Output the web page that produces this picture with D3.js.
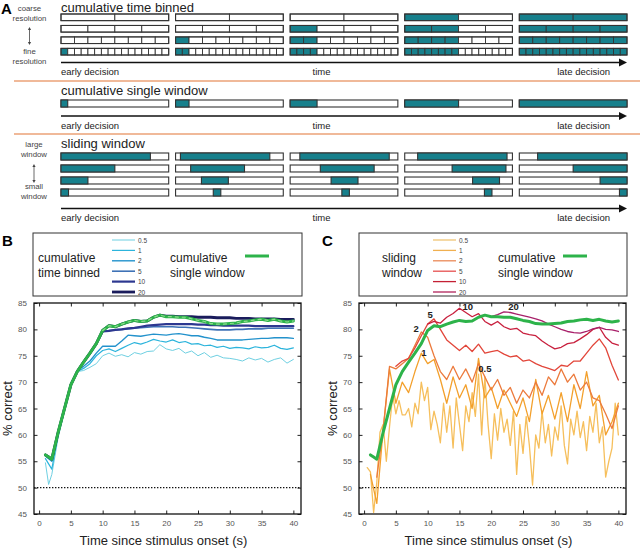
<!DOCTYPE html>
<html><head><meta charset="utf-8">
<script src="https://cdn.jsdelivr.net/npm/d3@7"></script>
<style>
html,body{margin:0;padding:0;background:#fff;}
svg{display:block;font-family:"Liberation Sans",Arial,sans-serif;}
</style></head><body>
<svg id="fig" width="640" height="548"></svg>
<script>
// ================= DATA =================
// Panel A schematic
const groups = [0, 1, 2, 3, 4];
const decisionFrac = [1/16, 2/16, 4/16, 8/16, 1];
const binCounts = [2, 4, 8, 16];
const slideWidth = [0.83, 0.5, 0.25, 0.07];
const slideStart = [
  [0, 0.045, 0.09, 0.12, 0.17],
  [0, 0.14, 0.28, 0.44, 0.5],
  [0, 0.24, 0.38, 0.63, 0.75],
  [0, 0.35, 0.48, 0.74, 0.93]
];
const axisWords = ["early decision", "time", "late decision"];

// Axis ticks
const xTicks = [0, 5, 10, 15, 20, 25, 30, 35, 40];
const yTicks = [45, 50, 55, 60, 65, 70, 75, 80, 85];

// Panel B: cumulative time binned
const timesB = [1, 1.5, 2, 3, 4, 5, 6, 7, 8, 9, 10, 11, 12, 13, 14, 15, 16, 17, 18, 19, 20,
  21, 22, 23, 24, 25, 26, 27, 28, 29, 30, 31, 32, 33, 34, 35, 36, 37, 38, 39, 40];
const singleWindow = [56.2, 55.8, 55.4, 60.5, 65.0, 69.5, 72.0, 73.8, 75.5, 77.3, 79.8,
  80.7, 80.5, 81.0, 81.4, 81.7, 81.5, 81.6, 82.3, 82.7, 82.4,
  82.4, 82.3, 82.3, 82.0, 81.7, 81.5, 81.1, 81.0, 81.0, 81.1,
  81.2, 81.5, 81.6, 81.8, 81.9, 81.7, 81.9, 81.6, 81.4, 81.6];
const bin05 = [54.7, 50.6, 52.5, 59.5, 64.5, 69.5, 72.0, 72.2, 72.8, 73.5, 75.0,
  75.5, 74.9, 75.2, 74.8, 75.6, 75.3, 75.8, 75.9, 77.1, 76.3,
  76.0, 76.4, 75.5, 75.9, 75.0, 75.6, 74.7, 75.1, 74.6, 74.5,
  74.3, 74.0, 74.6, 74.2, 74.5, 73.8, 74.3, 74.6, 73.6, 74.3];
const bin1 = [55.5, 54.5, 53.5, 60.0, 65.0, 69.5, 72.0, 72.6, 73.5, 75.0, 76.0,
  76.3, 75.8, 76.4, 77.0, 77.5, 77.2, 77.6, 78.1, 77.8, 77.6,
  78.0, 77.5, 77.7, 77.2, 77.3, 76.9, 77.0, 76.6, 76.8, 76.4,
  76.6, 76.5, 76.3, 76.7, 76.5, 76.6, 77.0, 76.4, 76.2, 76.5];
const bin2 = [56.0, 55.5, 55.0, 60.3, 65.0, 69.5, 72.2, 73.0, 74.0, 75.5, 76.8,
  76.8, 76.8, 77.8, 78.9, 78.8, 78.7, 78.9, 79.1, 79.0, 78.9,
  79.1, 79.2, 79.0, 78.8, 78.8, 78.5, 78.3, 78.0, 78.0, 78.0,
  78.0, 78.0, 78.1, 78.2, 78.3, 78.3, 78.4, 78.4, 78.4, 78.3];
const bin5 = [56.2, 55.8, 55.4, 60.5, 65.0, 69.5, 72.0, 73.8, 75.5, 77.3, 79.6,
  79.8, 79.9, 80.0, 80.1, 80.2, 80.3, 80.4, 80.5, 80.5, 80.5,
  80.5, 80.4, 80.4, 80.3, 80.2, 80.1, 80.0, 79.9, 79.9, 79.9,
  80.0, 80.0, 80.1, 80.1, 80.1, 80.2, 80.2, 80.2, 80.2, 80.2];
const bin10 = [56.2, 55.8, 55.4, 60.5, 65.0, 69.5, 72.0, 73.8, 75.5, 77.3, 79.6,
  79.7, 79.9, 80.0, 80.2, 80.3, 80.5, 80.7, 80.8, 80.9, 81.0,
  81.0, 81.0, 81.0, 81.0, 80.9, 80.9, 80.8, 80.8, 80.7, 80.7,
  80.7, 80.7, 80.7, 80.6, 80.6, 80.6, 80.6, 80.6, 80.6, 80.6];
const bin20 = [56.2, 55.8, 55.4, 60.5, 65.0, 69.5, 72.0, 73.8, 75.5, 77.3, 79.8,
  80.7, 80.5, 81.0, 81.4, 81.7, 81.5, 81.6, 82.3, 82.7, 82.5,
  82.5, 82.4, 82.4, 82.4, 82.3, 82.3, 82.3, 82.2, 82.2, 82.2,
  82.1, 82.1, 82.1, 82.0, 82.0, 82.0, 82.0, 81.9, 81.9, 81.9];
const binNames = ["0.5", "1", "2", "5", "10", "20"];
const binColors = ["#6fd0e2", "#2cb4dc", "#2392cc", "#3f72b6", "#2d3890", "#1a1c5c"];
const binWidths = [1, 1.2, 1.4, 1.6, 2.2, 2.8];

// Panel C: sliding window
const times05 = d3.range(0.5, 40.25, 0.5);
const times1 = d3.range(1, 41);
const times2 = d3.range(2, 41);
const times5 = d3.range(5, 41);
const times10 = d3.range(10, 41);
const times20 = d3.range(20, 41);
const sw05 = [53.8, 53.0, 45.3, 51.0, 60.5, 62.0, 55.0, 61.5, 67.5, 64.0,
  66.5, 63.8, 63.8, 65.0, 61.5, 66.0, 64.0, 70.0, 66.5, 69.0,
  61.0, 64.5, 62.0, 58.5, 66.0, 60.5, 65.5, 57.5, 67.0, 62.0,
  57.0, 65.5, 62.5, 68.0, 63.5, 71.5, 60.0, 71.0, 62.0, 55.5,
  64.0, 59.0, 65.0, 60.5, 63.0, 58.0, 64.5, 52.5, 62.0, 56.5,
  63.5, 58.0, 50.5, 60.0, 57.5, 64.5, 58.5, 62.0, 56.0, 61.5,
  59.0, 65.5, 58.0, 54.5, 63.0, 60.0, 64.5, 59.5, 62.5, 57.0,
  63.5, 60.5, 66.0, 58.5, 61.5, 52.0, 55.0, 57.5, 66.0, 60.0];
const sw1 = [52.5, 47.0, 61.0, 72.5, 66, 70, 68, 72, 75.5, 73.5,
  74.3, 70.5, 66, 71, 67, 69.5, 65, 74.5, 67, 69,
  65, 68.5, 66, 63.5, 67, 62.5, 70.5, 64, 67.5, 63,
  68, 62.5, 69.5, 65, 72, 65.5, 67.5, 60, 62.5, 66];
const sw2 = [52, 61, 73, 72.5, 73.5, 74.5, 77.0, 79.5, 78.5,
  75.0, 72.0, 70.5, 73.0, 70.5, 72.5, 70.0, 73.5, 71.0, 68.5,
  70.5, 67.5, 69.0, 66.0, 68.5, 67.0, 70.0, 67.5, 71.0, 69.5,
  72.5, 70.0, 71.5, 68.5, 70.0, 67.0, 66.5, 64.0, 61.2, 65.5];
const sw5 = [73.0, 74.0, 74.5, 76.5, 78.8, 81.0,
  82.0, 80.0, 78.0, 77.0, 76.0, 77.0, 75.8, 77.2, 75.5, 75.8,
  76.0, 75.3, 74.8, 75.0, 74.0, 74.2, 73.5, 73.0, 72.6, 72.2,
  73.2, 73.0, 74.0, 74.0, 75.5, 77.0, 78.2, 76.5, 73.2, 70.4];
const sw10 = [81.0,
  81.5, 81.2, 82.3, 83.0, 84.0, 83.2, 82.4, 83.0, 81.5, 80.8,
  81.5, 80.5, 80.0, 80.2, 79.3, 79.0, 78.8, 77.8, 77.0, 76.3,
  76.6, 77.3, 77.5, 78.2, 79.0, 80.0, 80.4, 78.5, 77.4, 77.0];
const sw20 = [82.4, 82.8, 83.3, 83.2, 82.9, 82.6, 82.3, 82.0, 81.6, 81.0, 80.5,
  80.0, 79.6, 79.4, 79.3, 79.6, 80.1, 80.4, 80.0, 79.9, 79.6];
const swColors = ["#f6bf5c", "#f3a02c", "#ec7a3c", "#e2463a", "#c8203e", "#a8206a"];
const swLegendColors = ["#f0c474", "#f0b050", "#ea8a58", "#e65050", "#c42034", "#b0225a"];
const swLabels = [
  {text: "1", t: 9.4, v: 75.6},
  {text: "2", t: 8.2, v: 80.2},
  {text: "5", t: 10.4, v: 82.8},
  {text: "10", t: 16.3, v: 84.3},
  {text: "20", t: 23.5, v: 84.3},
  {text: "0.5", t: 19.0, v: 72.6}
];

// ================= DRAW =================
const svg = d3.select("#fig");
const TEAL = "#17808c", STROKE = "#333";

// ---- Panel A ----
svg.append("text").attr("x", 1).attr("y", 14).attr("font-size", 15).attr("font-weight", "bold").text("A");

const gx = d3.scaleBand().domain(groups).range([61, 627]).paddingInner(0.06);

function arrowAxis(y, labelY) {
  svg.append("line").attr("x1", 61).attr("x2", 621).attr("y1", y).attr("y2", y)
    .attr("stroke", "#111").attr("stroke-width", 1.3);
  svg.append("path").attr("d", `M619,${y - 4}L627,${y}L619,${y + 4}Z`).attr("fill", "#111");
  svg.append("text").attr("x", 61).attr("y", labelY).attr("font-size", 9.5).attr("fill", "#222").text(axisWords[0]);
  svg.append("text").attr("x", 321.5).attr("y", labelY).attr("font-size", 9.5).attr("text-anchor", "middle").attr("fill", "#222").text(axisWords[1]);
  svg.append("text").attr("x", 610).attr("y", labelY).attr("font-size", 9.5).attr("text-anchor", "end").attr("fill", "#222").text(axisWords[2]);
}
function title(x, y, t) {
  svg.append("text").attr("x", x).attr("y", y).attr("font-size", 13).attr("fill", "#222").text(t);
}
function sideLabel(cx, lines, y0, y1, arrowY0, arrowY1) {
  const g = svg.append("g").attr("font-size", 7.8).attr("fill", "#444").attr("text-anchor", "middle");
  g.append("text").attr("x", cx).attr("y", y0).text(lines[0]);
  g.append("text").attr("x", cx).attr("y", y0 + 10).text(lines[1]);
  g.append("text").attr("x", cx).attr("y", y1).text(lines[2]);
  g.append("text").attr("x", cx).attr("y", y1 + 10).text(lines[3]);
  g.append("line").attr("x1", cx).attr("x2", cx).attr("y1", arrowY0 + 2).attr("y2", arrowY1 - 2).attr("stroke", "#444").attr("stroke-width", 0.8);
  g.append("path").attr("d", `M${cx - 1.6},${arrowY0 + 3}L${cx},${arrowY0}L${cx + 1.6},${arrowY0 + 3}Z`).attr("fill", "#444");
  g.append("path").attr("d", `M${cx - 1.6},${arrowY1 - 3}L${cx},${arrowY1}L${cx + 1.6},${arrowY1 - 3}Z`).attr("fill", "#444");
}

// cumulative time binned
title(61, 12, "cumulative time binned");
sideLabel(29.5, ["coarse", "resolution", "fine", "resolution"], 11, 54, 27, 45);
const rowsA = d3.scaleBand().domain(d3.range(binCounts.length)).range([14, 55]).paddingInner(0.42);
groups.forEach((g, gi) => {
  binCounts.forEach((n, ri) => {
    const segW = gx.bandwidth() / n;
    d3.range(n).forEach(i => {
      const filled = (i + 1) / n <= decisionFrac[gi] + 1e-9;
      svg.append("rect").attr("x", gx(g) + i * segW).attr("y", rowsA(ri))
        .attr("width", segW).attr("height", rowsA.bandwidth())
        .attr("fill", filled ? TEAL : "#fff").attr("stroke", STROKE).attr("stroke-width", 0.9);
    });
    svg.append("rect").attr("x", gx(g)).attr("y", rowsA(ri)).attr("width", gx.bandwidth()).attr("height", rowsA.bandwidth())
      .attr("fill", "none").attr("stroke", STROKE).attr("stroke-width", 1.1);
  });
});
arrowAxis(62.5, 75);
svg.append("line").attr("x1", 14).attr("x2", 640).attr("y1", 81).attr("y2", 81).attr("stroke", "#eba277").attr("stroke-width", 1.4);

// cumulative single window
title(61, 95, "cumulative single window");
groups.forEach((g, gi) => {
  svg.append("rect").attr("x", gx(g)).attr("y", 100).attr("width", gx.bandwidth()).attr("height", 7)
    .attr("fill", "#fff").attr("stroke", STROKE).attr("stroke-width", 1.1);
  svg.append("rect").attr("x", gx(g)).attr("y", 100).attr("width", gx.bandwidth() * decisionFrac[gi]).attr("height", 7)
    .attr("fill", TEAL).attr("stroke", STROKE).attr("stroke-width", 1.1);
});
arrowAxis(116, 128.5);
svg.append("line").attr("x1", 14).attr("x2", 640).attr("y1", 134).attr("y2", 134).attr("stroke", "#eba277").attr("stroke-width", 1.4);

// sliding window
title(61, 148, "sliding window");
sideLabel(34, ["large", "window", "small", "window"], 147, 189, 164, 183);
const rowsS = d3.scaleBand().domain(d3.range(slideWidth.length)).range([153, 196]).paddingInner(0.42);
groups.forEach((g, gi) => {
  slideWidth.forEach((w, ri) => {
    const bw = gx.bandwidth();
    svg.append("rect").attr("x", gx(g)).attr("y", rowsS(ri)).attr("width", bw).attr("height", rowsS.bandwidth())
      .attr("fill", "#fff").attr("stroke", STROKE).attr("stroke-width", 1.1);
    svg.append("rect").attr("x", gx(g) + bw * slideStart[ri][gi]).attr("y", rowsS(ri)).attr("width", bw * w).attr("height", rowsS.bandwidth())
      .attr("fill", TEAL).attr("stroke", STROKE).attr("stroke-width", 1.1);
  });
});
arrowAxis(208.5, 221);

// ---- Panels B and C ----
const yScale = d3.scaleLinear().domain([45, 85]).range([514, 303]);

function panel(opts) {
  const x = d3.scaleLinear().domain([-0.8, 41.2]).range([opts.left, opts.right]);
  const y = yScale;
  const g = svg.append("g");
  const clipId = "clip" + opts.name;
  svg.append("clipPath").attr("id", clipId).append("rect")
    .attr("x", opts.left).attr("y", 303).attr("width", opts.right - opts.left).attr("height", 211);

  // axes
  const ax = (axis, tr) => {
    const a = g.append("g").attr("transform", tr).call(axis);
    a.select(".domain").remove();
    a.selectAll("line").attr("stroke", "#222");
    a.selectAll("text").attr("fill", "#555").attr("font-size", 8).attr("font-family", "Liberation Sans, Arial, sans-serif");
    return a;
  };
  ax(d3.axisBottom(x).tickValues(xTicks).tickSize(-3.5).tickPadding(6), `translate(0,514)`);
  ax(d3.axisTop(x).tickValues(xTicks).tickSize(-3.5).tickFormat(""), `translate(0,303)`);
  ax(d3.axisLeft(y).tickValues(yTicks).tickSize(-3.5).tickPadding(7), `translate(${opts.left},0)`);
  ax(d3.axisRight(y).tickValues(yTicks).tickSize(-3.5).tickFormat(""), `translate(${opts.right},0)`);

  // chance line
  g.append("line").attr("x1", opts.left).attr("x2", opts.right).attr("y1", y(50)).attr("y2", y(50))
    .attr("stroke", "#111").attr("stroke-width", 1.3).attr("stroke-dasharray", "1.4,1.6");

  const line = d3.line().x(d => x(d[0])).y(d => y(d[1]));
  const lg = g.append("g").attr("clip-path", `url(#${clipId})`).attr("fill", "none")
    .attr("stroke-linejoin", "round").attr("stroke-linecap", "round");
  opts.series.forEach(s => {
    lg.append("path").attr("d", line(d3.zip(s.t, s.v))).attr("stroke", s.color).attr("stroke-width", s.w)
      .attr("stroke-dasharray", s.dash || null);
  });

  // frame
  g.append("rect").attr("x", opts.left).attr("y", 303).attr("width", opts.right - opts.left).attr("height", 211)
    .attr("fill", "none").attr("stroke", "#111").attr("stroke-width", 1.3);

  // axis titles
  g.append("text").attr("transform", `translate(${opts.left - 22},408.5) rotate(-90)`).attr("text-anchor", "middle")
    .attr("font-size", 13).attr("fill", "#222").text("% correct");
  g.append("text").attr("x", (opts.left + opts.right) / 2 - 4).attr("y", 545).attr("text-anchor", "middle")
    .attr("font-size", 13).attr("fill", "#222").text("Time since stimulus onset  (s)");
  return {x, y, g};
}

function legendBox(opts) {
  const g = svg.append("g");
  g.append("rect").attr("x", opts.x0).attr("y", 233).attr("width", opts.x1 - opts.x0).attr("height", 63)
    .attr("fill", "#fff").attr("stroke", "#333").attr("stroke-width", 1);
  g.append("text").attr("x", opts.tx).attr("y", 262).attr("font-size", 12).attr("fill", "#222").text(opts.left[0]);
  g.append("text").attr("x", opts.tx).attr("y", 277).attr("font-size", 12).attr("fill", "#222").text(opts.left[1]);
  const ly = d3.scalePoint().domain(binNames).range([240, 292]);
  binNames.forEach((n, i) => {
    g.append("line").attr("x1", opts.lx).attr("x2", opts.lx + 23).attr("y1", ly(n)).attr("y2", ly(n))
      .attr("stroke", opts.colors[i]).attr("stroke-width", opts.widths[i]);
    g.append("text").attr("x", opts.lx + 26).attr("y", ly(n) + 2.5).attr("font-size", 6.5).attr("fill", "#444").text(n);
  });
  g.append("text").attr("x", opts.rx).attr("y", 262).attr("font-size", 12).attr("fill", "#222").text("cumulative");
  g.append("text").attr("x", opts.rx).attr("y", 277).attr("font-size", 12).attr("fill", "#222").text("single window");
  g.append("line").attr("x1", opts.gx).attr("x2", opts.gx + 24).attr("y1", 256).attr("y2", 256)
    .attr("stroke", "#2db34a").attr("stroke-width", 3);
}

// Panel B
svg.append("text").attr("x", 2).attr("y", 246).attr("font-size", 15).attr("font-weight", "bold").text("B");
legendBox({x0: 33, x1: 302, tx: 38, left: ["cumulative", "time binned"], lx: 112, colors: binColors,
  widths: binWidths, rx: 170, gx: 245});
const binVals = [bin05, bin1, bin2, bin5, bin10, bin20];
const seriesB = binVals.map((v, i) => ({t: timesB, v, color: binColors[i], w: binWidths[i]}));
seriesB.push({t: timesB, v: singleWindow, color: "#2db34a", w: 3});
seriesB.push({t: timesB.filter(t => t >= 10), v: singleWindow.filter((v, i) => timesB[i] >= 10), color: "#8fdc8f", w: 1.2, dash: "3,4"});
panel({name: "B", left: 34, right: 301, series: seriesB});

// Panel C
svg.append("text").attr("x", 322).attr("y", 246).attr("font-size", 15).attr("font-weight", "bold").text("C");
legendBox({x0: 359, x1: 627, tx: 382, left: ["sliding", "window"], lx: 433, colors: swLegendColors,
  widths: [1.3, 1.3, 1.3, 1.3, 1.3, 1.3], rx: 498, gx: 563});
const swTimes = [times05, times1, times2, times5, times10, times20];
const swVals = [sw05, sw1, sw2, sw5, sw10, sw20];
const seriesC = swVals.map((v, i) => ({t: swTimes[i], v, color: swColors[i], w: 1.3}));
seriesC.push({t: timesB, v: singleWindow, color: "#2db34a", w: 3});
const pc = panel({name: "C", left: 359, right: 626, series: seriesC});
pc.g.selectAll(null).data(swLabels).join("text")
  .attr("x", d => pc.x(d.t)).attr("y", d => pc.y(d.v)).attr("dy", "0.35em").attr("text-anchor", "middle")
  .attr("font-size", 9.5).attr("font-weight", "bold").attr("fill", "#222").text(d => d.text);
</script>
</body></html>
